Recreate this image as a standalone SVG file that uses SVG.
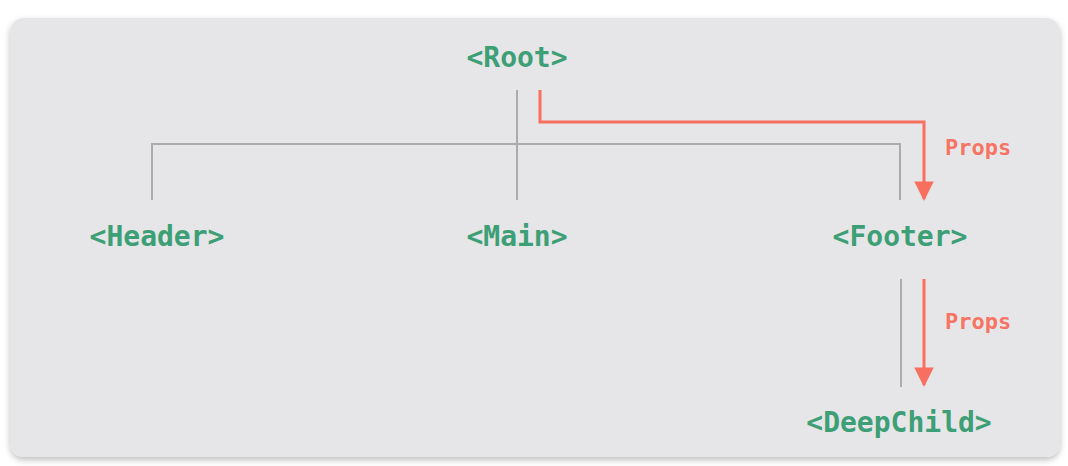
<svg xmlns="http://www.w3.org/2000/svg" width="1068" height="466" viewBox="0 0 1068 466">
<style>
.node{font-family:"DejaVu Sans Mono","Liberation Mono",monospace;font-weight:bold;font-size:28px;fill:#3d9f76;text-anchor:middle}
.lbl{font-family:"DejaVu Sans Mono","Liberation Mono",monospace;font-weight:bold;font-size:22px;fill:#f77363}
.tree{stroke:#ababab;stroke-width:2;fill:none}
.prop{stroke:#f86f5f;stroke-width:3;fill:none}
</style>
<defs>
<filter id="sh" x="-5%" y="-5%" width="110%" height="115%">
<feDropShadow dx="0" dy="3" stdDeviation="3" flood-color="#000" flood-opacity="0.25"/>
</filter>
<marker id="ah" viewBox="0 0 10 10" refX="9" refY="5" markerWidth="6.5" markerHeight="6.5" markerUnits="strokeWidth" orient="auto">
<path d="M0,0 L10,5 L0,10 Z" fill="#f86f5f"/>
</marker>
</defs>
<rect width="1068" height="466" fill="#ffffff"/>
<rect x="10" y="18" width="1050" height="439" rx="14" fill="#e6e6e8" filter="url(#sh)"/>
<g id="connectors">
<path class="tree" d="M517,90 V200"/>
<path class="tree" d="M152,200 V144 H900 V200"/>
<path class="tree" d="M901,279 V387"/>
<path class="prop" d="M540,90 V122 H924 V199" marker-end="url(#ah)"/>
<path class="prop" d="M924,279 V385" marker-end="url(#ah)"/>
<text class="lbl" x="945" y="155">Props</text>
<text class="lbl" x="945" y="329">Props</text>
</g>
<g id="root"><text class="node" x="517" y="67">&lt;Root&gt;</text></g>
<g id="header"><text class="node" x="157" y="246">&lt;Header&gt;</text></g>
<g id="main"><text class="node" x="517" y="246">&lt;Main&gt;</text></g>
<g id="footer"><text class="node" x="900" y="246">&lt;Footer&gt;</text></g>
<g id="deepchild"><text class="node" x="899" y="432">&lt;DeepChild&gt;</text></g>
</svg>
